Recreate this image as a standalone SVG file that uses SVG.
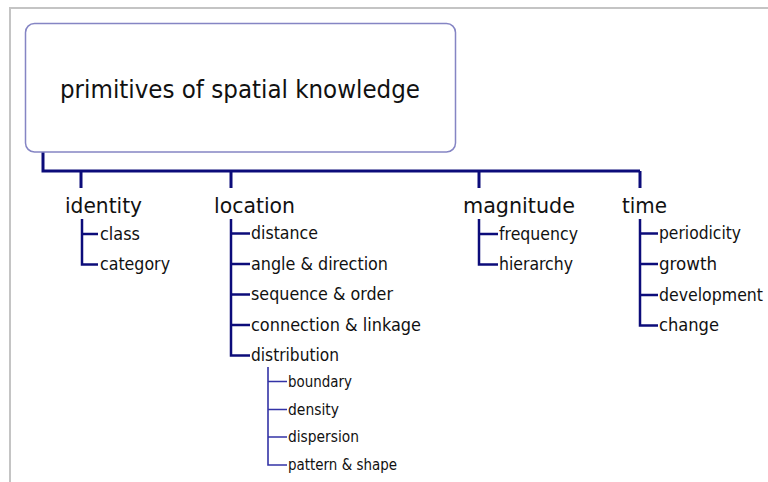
<svg xmlns="http://www.w3.org/2000/svg" width="768" height="482" viewBox="0 0 768 482">
<style>
text{font-family:"DejaVu Sans Condensed","DejaVu Sans",sans-serif;fill:#111;}
.title{font-size:25px;}
.h{font-size:21px;}
.i{font-size:18px;}
.s{font-size:15px;}
.c0{fill:none;stroke:#0c0c7a;stroke-width:3;}
.c1{fill:none;stroke:#0c0c7a;stroke-width:2.5;}
.c2{fill:none;stroke:#3333a6;stroke-width:1.6;}
</style>
<rect x="0" y="0" width="768" height="482" fill="#ffffff"/>
<g id="frame">
<path d="M10,482 V8 H768" fill="none" stroke="#c4c4c4" stroke-width="2"/>
</g>
<g id="connectors">
<path class="c0" d="M43,152 V171 H640"/>
<path class="c0" d="M81,171 V188 M231,171 V188 M479,171 V188 M640,171 V188"/>
<path class="c1" d="M82,219 V264.5 H98 M82,234 H98"/>
<path class="c1" d="M231,219 V355.5 H250 M231,233.5 H250 M231,264 H250 M231,294.5 H250 M231,325 H250"/>
<path class="c1" d="M479,219 V264.5 H498 M479,234 H498"/>
<path class="c1" d="M640,219 V325.5 H658 M640,233.5 H658 M640,264 H658 M640,295 H658"/>
<path class="c2" d="M268,367 V465 H287 M268,381.5 H287 M268,409.5 H287 M268,437 H287"/>
</g>
<g id="root">
<rect x="25.5" y="23.5" width="430" height="128.5" rx="9" ry="9" fill="#ffffff" stroke="#8585c4" stroke-width="1.5"/>
<text class="title" x="60" y="98" textLength="360" lengthAdjust="spacingAndGlyphs">primitives of spatial knowledge</text>
</g>
<g id="identity">
<text class="h" x="65" y="213" textLength="77" lengthAdjust="spacingAndGlyphs">identity</text>
<text class="i" x="100" y="239.5" textLength="40" lengthAdjust="spacingAndGlyphs">class</text>
<text class="i" x="100" y="270" textLength="70" lengthAdjust="spacingAndGlyphs">category</text>
</g>
<g id="location">
<text class="h" x="214" y="213" textLength="81" lengthAdjust="spacingAndGlyphs">location</text>
<text class="i" x="251" y="239" textLength="67" lengthAdjust="spacingAndGlyphs">distance</text>
<text class="i" x="251" y="269.5" textLength="137" lengthAdjust="spacingAndGlyphs">angle &amp; direction</text>
<text class="i" x="251" y="300" textLength="142" lengthAdjust="spacingAndGlyphs">sequence &amp; order</text>
<text class="i" x="251" y="330.5" textLength="170" lengthAdjust="spacingAndGlyphs">connection &amp; linkage</text>
<text class="i" x="251" y="361" textLength="88" lengthAdjust="spacingAndGlyphs">distribution</text>
</g>
<g id="distribution">
<text class="s" x="288" y="386.5" textLength="64" lengthAdjust="spacingAndGlyphs">boundary</text>
<text class="s" x="288" y="414.5" textLength="51" lengthAdjust="spacingAndGlyphs">density</text>
<text class="s" x="288" y="442" textLength="71" lengthAdjust="spacingAndGlyphs">dispersion</text>
<text class="s" x="288" y="470" textLength="109" lengthAdjust="spacingAndGlyphs">pattern &amp; shape</text>
</g>
<g id="magnitude">
<text class="h" x="463" y="213" textLength="112" lengthAdjust="spacingAndGlyphs">magnitude</text>
<text class="i" x="499" y="239.5" textLength="79" lengthAdjust="spacingAndGlyphs">frequency</text>
<text class="i" x="499" y="270" textLength="74" lengthAdjust="spacingAndGlyphs">hierarchy</text>
</g>
<g id="time">
<text class="h" x="622" y="213" textLength="45" lengthAdjust="spacingAndGlyphs">time</text>
<text class="i" x="659" y="239" textLength="82" lengthAdjust="spacingAndGlyphs">periodicity</text>
<text class="i" x="659" y="269.5" textLength="58" lengthAdjust="spacingAndGlyphs">growth</text>
<text class="i" x="659" y="300.5" textLength="104" lengthAdjust="spacingAndGlyphs">development</text>
<text class="i" x="659" y="331" textLength="60" lengthAdjust="spacingAndGlyphs">change</text>
</g>
</svg>
